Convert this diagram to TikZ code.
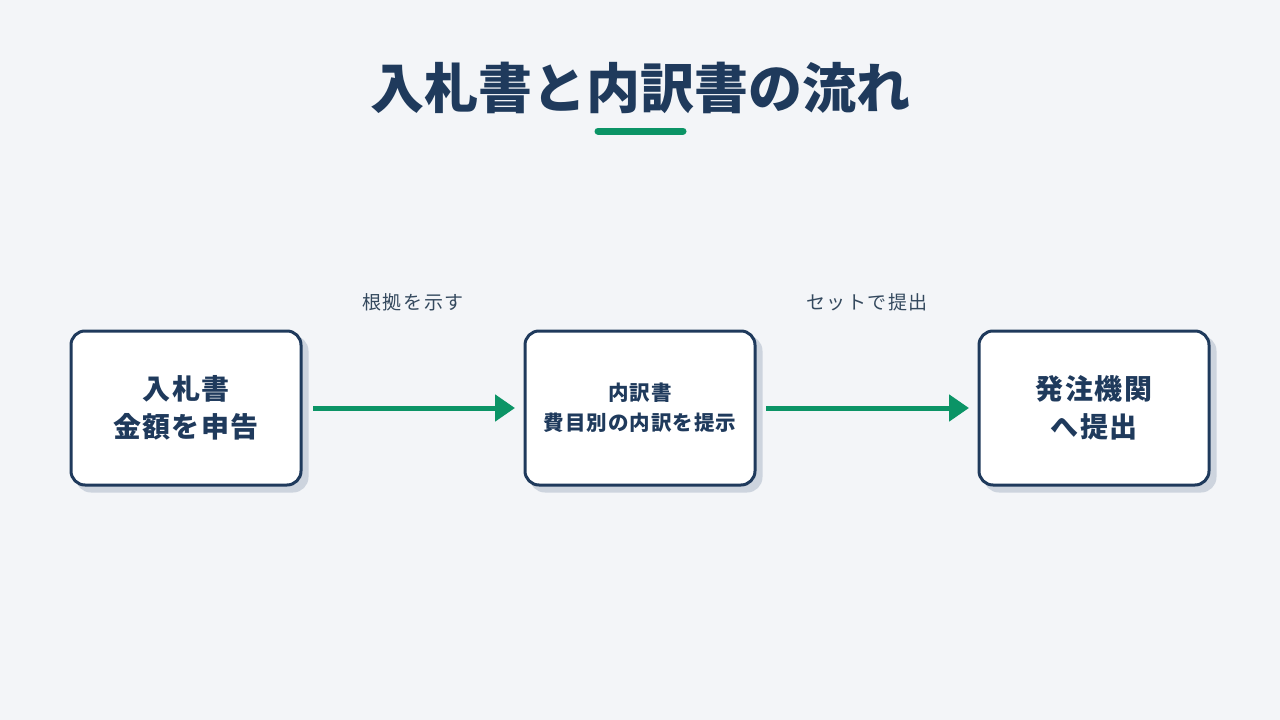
\documentclass[tikz,border=0pt]{standalone}
\usepackage{fontspec}
\setmainfont{Noto Sans CJK JP}
\usetikzlibrary{arrows.meta,shadows}
\definecolor{bgc}{HTML}{F3F5F8}
\definecolor{navy}{HTML}{1F3A5C}
\definecolor{grn}{HTML}{0B9466}
\definecolor{shd}{HTML}{CDD4DE}
\definecolor{lbl}{HTML}{34495E}
\tikzset{
  box/.style={draw=navy, line width=3pt, fill=white, rounded corners=14pt,
    minimum width=230pt, minimum height=154pt, outer sep=0pt, align=center,
    text=navy, font=\bfseries\fontsize{28}{38}\selectfont\addfontfeatures{LetterSpace=5},
    general shadow={fill=shd, draw=shd, line width=3pt, shadow xshift=6pt, shadow yshift=-6pt}},
  smallbox/.style={box, font=\bfseries\fontsize{20.5}{30}\selectfont\addfontfeatures{LetterSpace=5}},
  arr/.style={draw=grn, line width=5pt, -{Triangle[length=20pt,width=26pt]}},
  lab/.style={text=lbl, font=\fontsize{19}{22}\selectfont\addfontfeatures{LetterSpace=8}},
}
\begin{document}
\begin{tikzpicture}[x=1pt,y=-1pt]
\fill[bgc] (0,0) rectangle (1280,720);
\useasboundingbox (0,0) rectangle (1280,720);
\node[text=navy, font=\bfseries\fontsize{54}{60}\selectfont] (title) at (640,88) {入札書と内訳書の流れ};
\draw[grn, line width=7pt, line cap=round] (598,131) -- (683,131);
\node[box] (b1) at (186,408) {入札書\\金額を申告};
\node[smallbox] (b2) at (640,408) {内訳書\\費目別の内訳を提示};
\node[box] (b3) at (1094,408) {発注機関\\へ提出};
\draw[arr, shorten <=12pt, shorten >=10pt] (b1) -- node[lab, pos=0.5, yshift=106pt] (l1) {根拠を示す} (b2);
\draw[arr, shorten <=11pt, shorten >=10pt] (b2) -- node[lab, pos=0.5, yshift=106pt] (l2) {セットで提出} (b3);
\end{tikzpicture}
\end{document}
